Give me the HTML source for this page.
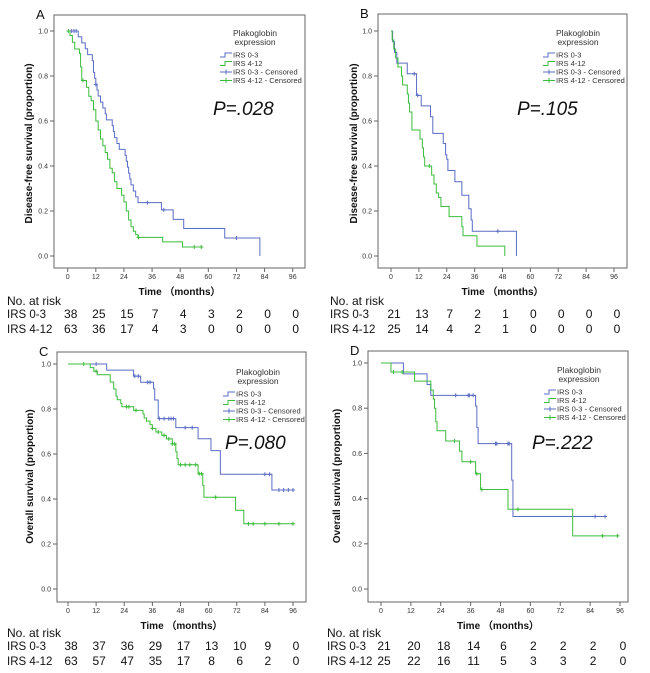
<!DOCTYPE html>
<html><head><meta charset="utf-8">
<style>
html,body{margin:0;padding:0;background:#fff;}
svg{display:block;font-family:"Liberation Sans",sans-serif;}
</style></head>
<body>
<svg id="fig" width="650" height="673" viewBox="0 0 650 673"></svg>
<script>
// ---- Data (months, survival proportion after each event) ----
const xTicks = [0,12,24,36,48,60,72,84,96];
const yTicks = [0,0.2,0.4,0.6,0.8,1.0];
const groupNames = ["IRS 0-3","IRS 4-12"];

const aBlueT = [4.5,6,7.5,8.5,10.5,11,11.5,12,12.5,13,14,15,16,16.5,19,19.5,20,21,22,24.5,25,25.5,26,26.5,27,28,29,30,40,45,49.5,67,82];
const aBlueS = [0.974,0.947,0.921,0.895,0.868,0.816,0.79,0.763,0.737,0.711,0.684,0.658,0.632,0.605,0.579,0.553,0.526,0.5,0.474,0.447,0.421,0.395,0.368,0.342,0.316,0.289,0.263,0.237,0.205,0.163,0.122,0.08,0];
const aBlueC = [1.7,2.7,3.6,12,34,41,72];
const aBlueEnd = 82;
const aGreenT = [1,2,3,5,5.5,6,8,9,10,11,12,13,14,15,16,17,18,19,20,21,23,24,25,26,27,28,29,30,40.5,49];
const aGreenS = [0.98,0.95,0.92,0.9,0.84,0.78,0.75,0.71,0.69,0.65,0.6,0.56,0.52,0.49,0.46,0.43,0.39,0.37,0.33,0.3,0.27,0.24,0.2,0.16,0.13,0.11,0.095,0.083,0.063,0.04];
const aGreenC = [0.3,6.5,30.2,54,57];
const aGreenEnd = 57;

const bBlueT = [0.7,1.5,2.5,7,11,13,17,18,22.5,23.5,24,24.5,27.5,30.5,33.5,34.5,35,54];
const bBlueS = [0.952,0.905,0.857,0.81,0.714,0.667,0.619,0.545,0.5,0.45,0.43,0.38,0.33,0.27,0.21,0.16,0.11,0];
const bBlueC = [10,11.5,46];
const bBlueEnd = 54;
const bGreenT = [0.5,1.2,2,3,4.5,5,7,7.5,8,9,12.5,13.5,14,14.5,17.5,18.5,19.5,20.5,21.5,25,30.5,31,37,49];
const bGreenS = [0.96,0.92,0.88,0.84,0.8,0.76,0.72,0.68,0.64,0.56,0.52,0.48,0.44,0.4,0.36,0.32,0.28,0.26,0.22,0.175,0.13,0.09,0.044,0];
const bGreenC = [16.5];
const bGreenEnd = 49;

const cBlueT = [16.5,28,31,36.5,37,38.5,46,55.5,61,65,87];
const cBlueS = [0.973,0.946,0.919,0.89,0.84,0.757,0.717,0.668,0.615,0.51,0.44];
const cBlueC = [12,28.5,30,34,35,39,41,43,44,45,50,53,84,86,90,92,94,96];
const cBlueEnd = 96;
const cGreenT = [9.5,11,12.5,18,19.5,20.5,21,22.5,23,28,32,32.5,33.5,35,36,37.5,40,42,44.5,46,46.5,47,55.5,57.5,58,71.5,75];
const cGreenS = [0.984,0.968,0.952,0.92,0.889,0.857,0.841,0.825,0.81,0.794,0.778,0.76,0.746,0.73,0.714,0.698,0.683,0.667,0.645,0.61,0.58,0.552,0.512,0.46,0.408,0.35,0.29];
const cGreenC = [6.7,12,25,26,29,36,38.5,41,43,44.5,45.5,48,50,52,54.5,56,57,63,77,79,84,90,96];
const cGreenEnd = 96;

const dBlueT = [9,18.5,20,38,38.5,39,52.5,53];
const dBlueS = [0.952,0.905,0.857,0.81,0.714,0.643,0.482,0.321];
const dBlueC = [30,35,35.5,37,46,46.5,51,51.5,86,90];
const dBlueEnd = 90;
const dGreenT = [4,13.5,20,21,21.5,22,22.5,26,31.5,32.5,38,40,51,77];
const dGreenS = [0.96,0.92,0.88,0.84,0.8,0.74,0.70,0.655,0.61,0.563,0.51,0.44,0.353,0.235];
const dGreenC = [5,8.5,29.5,36,38.5,40.5,55,89,95];
const dGreenEnd = 95;

const aRisk0 = [38,25,15,7,4,3,2,0,0];
const aRisk1 = [63,36,17,4,3,0,0,0,0];
const bRisk0 = [21,13,7,2,1,0,0,0,0];
const bRisk1 = [25,14,4,2,1,0,0,0,0];
const cRisk0 = [38,37,36,29,17,13,10,9,0];
const cRisk1 = [63,57,47,35,17,8,6,2,0];
const dRisk0 = [21,20,18,14,6,2,2,2,0];
const dRisk1 = [25,22,16,11,5,3,3,2,0];

const pValues = ["P=.028","P=.105","P=.080","P=.222"];

// ---- Rendering ----
const NS = "http://www.w3.org/2000/svg";
const svg = document.getElementById("fig");
const BLUE = "#5b6cc4", GREEN = "#3cbc3c";
function mk(tag, attrs, parent){
  const e = document.createElementNS(NS, tag);
  for (const k in attrs) e.setAttribute(k, attrs[k]);
  (parent||svg).appendChild(e);
  return e;
}
function txt(parent, x, y, s, attrs){
  const t = mk("text", Object.assign({x:x, y:y}, attrs||{}), parent);
  t.textContent = s;
  return t;
}
function survAt(T, S, t){
  let s = 1;
  for (let i=0;i<T.length;i++){ if (T[i] <= t) s = S[i]; }
  return s;
}

const panels = [
  {id:"a", letter:"A", box:[54,15,305,268], x0:67.7, x96:292.7, y1:31, y0:256, ytitle:"Disease-free survival (proportion)", ytx:32, lx:220, ly:36, px:213, py:115, rx:7, ry:305,
   series:[[aBlueT,aBlueS,aBlueC,aBlueEnd],[aGreenT,aGreenS,aGreenC,aGreenEnd]], risk:[aRisk0,aRisk1]},
  {id:"b", letter:"B", box:[378,14,627,268], x0:391, x96:614, y1:31, y0:256, ytitle:"Disease-free survival (proportion)", ytx:357, lx:543, ly:36, px:517, py:115, rx:330, ry:305,
   series:[[bBlueT,bBlueS,bBlueC,bBlueEnd],[bGreenT,bGreenS,bGreenC,bGreenEnd]], risk:[bRisk0,bRisk1]},
  {id:"c", letter:"C", box:[57,352,306,602], x0:68, x96:293, y1:364, y0:589, ytitle:"Overall survival (proportion)", ytx:33, lx:223, ly:375, px:225, py:449, rx:7, ry:637,
   series:[[cBlueT,cBlueS,cBlueC,cBlueEnd],[cGreenT,cGreenS,cGreenC,cGreenEnd]], risk:[cRisk0,cRisk1]},
  {id:"d", letter:"D", box:[368,351,628,602], x0:381, x96:620, y1:363, y0:589, ytitle:"Overall survival (proportion)", ytx:340, lx:544, ly:373, px:532, py:449, rx:327, ry:637,
   series:[[dBlueT,dBlueS,dBlueC,dBlueEnd],[dGreenT,dGreenS,dGreenC,dGreenEnd]], risk:[dRisk0,dRisk1]}
];

panels.forEach((p, pi) => {
  const g = mk("g", {});
  
  
  const xs = t => p.x0 + (p.x96 - p.x0) * t / 96;
  const ys = s => p.y0 + (p.y1 - p.y0) * s;
  const [bx1,by1,bx2,by2] = p.box;

  const lt = txt(g, p.box[0]-18, p.box[1]+4, p.letter, {"font-size":"13","fill":"#111"});
  
  

  const frame = mk("rect", {x:bx1, y:by1, width:bx2-bx1, height:by2-by1, fill:"none", stroke:"#666", "stroke-width":"1"}, g);
  
  

  const yax = mk("g", {}, g);
  
  
  yTicks.forEach(v => {
    mk("line", {x1:bx1-4, x2:bx1, y1:ys(v), y2:ys(v), stroke:"#666"}, yax);
    const t = txt(yax, bx1-6, ys(v)+2.5, v.toFixed(1), {"font-size":"7","fill":"#333","text-anchor":"end"});
    
    
  });
  const yt = txt(yax, 0, 0, p.ytitle, {"font-size":"10","font-weight":"bold","fill":"#111","text-anchor":"middle",
    transform:"translate(" + p.ytx + "," + ((p.y0+p.y1)/2) + ") rotate(-90)"});
  
  

  const xax = mk("g", {}, g);
  
  
  xTicks.forEach(v => {
    mk("line", {x1:xs(v), x2:xs(v), y1:by2, y2:by2+4, stroke:"#666"}, xax);
    const t = txt(xax, xs(v), by2+11, String(v), {"font-size":"7","fill":"#333","text-anchor":"middle"});
    
    
  });
  const xt = txt(xax, (bx1+bx2)/2, by2+27, "Time （months）", {"font-size":"10","font-weight":"bold","fill":"#111","text-anchor":"middle"});
  
  

  p.series.forEach((sr, si) => {
    const [T,S,C,end] = sr;
    const col = si === 0 ? BLUE : GREEN;
    let d = "M" + xs(0) + "," + ys(1);
    for (let i=0;i<T.length;i++){ d += " H" + xs(T[i]) + " V" + ys(S[i]); }
    d += " H" + xs(end);
    const path = mk("path", {d:d, fill:"none", stroke:col, "stroke-width":"1"}, g);
    
    
    C.forEach(ct => {
      const cx = xs(ct), cy = ys(survAt(T,S,ct));
      const m = mk("path", {d:"M"+(cx-2)+","+cy+" H"+(cx+2)+" M"+cx+","+(cy-2)+" V"+(cy+2), stroke:col, "stroke-width":"1", fill:"none"}, g);
      
      
    });
  });

  const lg = mk("g", {}, g);
  
  
  const lc = p.lx + 35;
  txt(lg, lc, p.ly, "Plakoglobin", {"font-size":"8.5","fill":"#333","text-anchor":"middle"});
  txt(lg, lc, p.ly+9, "expression", {"font-size":"8.5","fill":"#333","text-anchor":"middle"});
  const labels = ["IRS 0-3","IRS 4-12","IRS 0-3 - Censored","IRS 4-12 - Censored"];
  labels.forEach((lab, i) => {
    const cy = p.ly + 19 + i*8.5;
    const col = i % 2 === 0 ? BLUE : GREEN;
    const e = mk("g", {}, lg);
    
    
    if (i < 2) {
      mk("path", {d:"M"+p.lx+","+(cy+2)+" H"+(p.lx+5)+" V"+(cy-2)+" H"+(p.lx+12), stroke:col, fill:"none"}, e);
    } else {
      mk("path", {d:"M"+p.lx+","+cy+" H"+(p.lx+12)+" M"+(p.lx+6)+","+(cy-2.5)+" V"+(cy+2.5), stroke:col, fill:"none"}, e);
    }
    txt(e, p.lx+13, cy+2.5, lab, {"font-size":"7.5","fill":"#333"});
  });

  const pv = txt(g, p.px, p.py, pValues[pi], {"font-size":"19","font-style":"italic","fill":"#111"});
  
  

  const rt = mk("g", {}, g);
  
  
  txt(rt, p.rx, p.ry, "No. at risk", {"font-size":"12","fill":"#111"});
  p.risk.forEach((row, ri) => {
    const yy = p.ry + 13 + ri*15;
    const rl = txt(rt, p.rx, yy, groupNames[ri], {"font-size":"11.5","fill":"#111"});
    
    
    row.forEach((n, k) => {
      const t = txt(rt, xs(xTicks[k]) + 3, yy, String(n), {"font-size":"12","fill":"#111","text-anchor":"middle"});
      
      
    });
  });
});
</script>
</body></html>
